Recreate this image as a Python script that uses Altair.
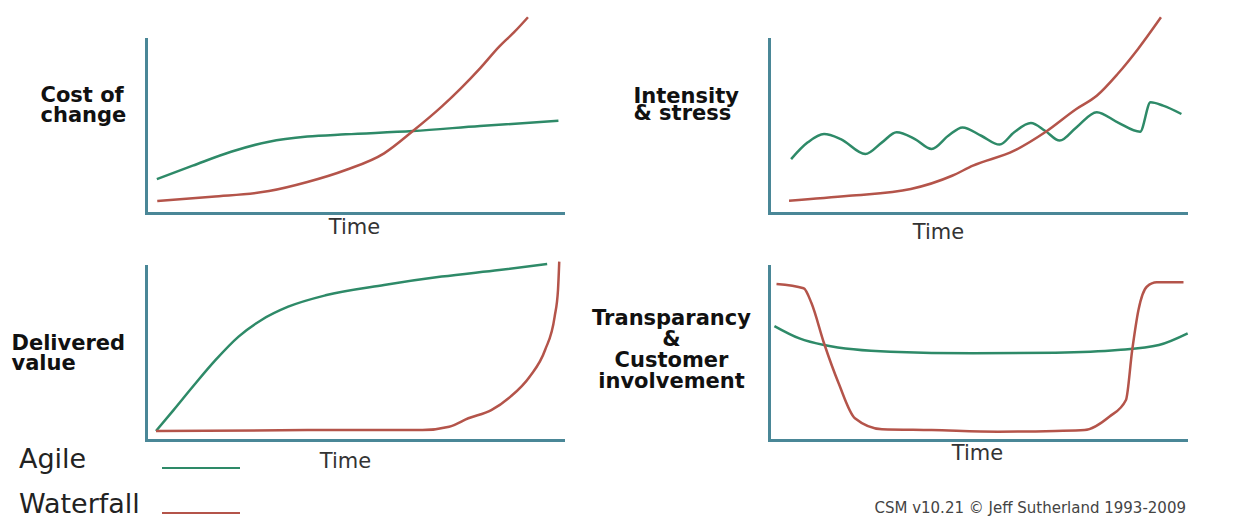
import altair as alt
import pandas as pd

SERIES = ["Agile", "Waterfall"]
COLORS = ["#2e8a68", "#b4544a"]
AXIS_COLOR = "#4a8797"
TEXT_FONT = "DejaVu Sans"

# ---- Panel 1: Cost of change ----
cost_agile_t = [2.6, 11.2, 20.4, 29.5, 38.7, 47.9, 64.0, 80.1, 98.9]
cost_agile_v = [19.5, 27.2, 35.2, 41.0, 43.9, 45.2, 47.1, 50.0, 53.0]
cost_wf_t = [2.7, 15.8, 29.5, 38.7, 47.9, 57.1, 64.0, 70.9, 75.5, 80.1, 84.7, 88.4, 91.6]
cost_wf_v = [6.9, 9.4, 12.6, 17.8, 24.7, 34.3, 47.1, 61.1, 71.6, 83.1, 95.6, 104.2, 112.5]

# ---- Panel 2: Intensity & stress ----
stress_agile_t = [5.3, 9.3, 13.2, 17.2, 23.1, 27.1, 30.6, 35.0, 39.0, 43.0, 46.4, 50.9, 55.3,
                  58.8, 62.8, 66.2, 69.7, 73.7, 78.6, 83.6, 89.0, 91.5, 94.5, 98.9]
stress_agile_v = [31.0, 40.6, 45.4, 42.5, 33.9, 40.6, 46.4, 42.5, 36.8, 44.4, 49.2, 44.4, 39.3,
                  46.4, 51.7, 47.3, 41.6, 49.2, 57.9, 52.1, 46.7, 63.6, 61.7, 56.9]
stress_wf_t = [4.8, 19.2, 34.0, 43.9, 48.9, 58.8, 66.2, 73.7, 78.6, 83.6, 88.5, 94.0]
stress_wf_v = [7.1, 9.9, 13.8, 21.4, 27.2, 35.8, 46.4, 59.8, 67.4, 79.9, 94.3, 112.5]

# ---- Panel 3: Delivered value ----
value_agile_t = [2.4, 6.6, 11.2, 16.7, 22.2, 27.7, 34.1, 43.3, 57.1, 70.9, 84.7, 96.2]
value_agile_v = [5.2, 17.2, 30.6, 46.0, 59.4, 69.0, 76.6, 83.3, 89.1, 93.9, 97.7, 101.1]
value_wf_t = [2.4, 38.7, 66.3, 72.7, 77.3, 82.8, 87.4, 92.0, 95.7, 98.0, 98.8, 99.1]
value_wf_v = [5.2, 5.7, 5.7, 7.6, 12.5, 17.2, 24.9, 36.4, 51.7, 70.9, 86.2, 102.5]

# ---- Panel 4: Transparancy & Customer involvement ----
transp_agile_t = [1.3, 7.3, 13.2, 29.1, 48.9, 68.7, 83.6, 93.5, 100.4]
transp_agile_v = [65.5, 58.4, 54.6, 50.7, 49.8, 50.2, 51.7, 54.6, 61.3]
transp_wf_t = [1.8, 8.3, 10.2, 13.2, 16.7, 20.6, 27.1, 39.0, 54.9, 68.7, 75.7, 81.6, 85.6,
               87.1, 88.6, 90.6, 93.0, 99.4]
transp_wf_v = [89.7, 87.2, 78.6, 55.6, 32.6, 12.5, 6.2, 5.7, 4.8, 5.2, 5.7, 13.4, 23.0,
               51.7, 74.7, 88.1, 90.6, 90.6]

FOOTER = "CSM v10.21 \u00a9 Jeff Sutherland 1993-2009"


def frame(at, av, wt, wv):
    a = pd.DataFrame({"t": at, "v": av, "series": SERIES[0]})
    w = pd.DataFrame({"t": wt, "v": wv, "series": SERIES[1]})
    return pd.concat([a, w], ignore_index=True)


color = alt.Color(
    "series:N",
    scale=alt.Scale(domain=SERIES, range=COLORS),
    legend=alt.Legend(
        title=None, orient="none", legendX=15, legendY=389,
        symbolType="stroke", symbolSize=6084, symbolStrokeWidth=2,
        labelFont=TEXT_FONT, labelFontSize=27, labelColor="#222222",
        labelOffset={"expr": "-222"}, labelAlign="left", labelBaseline="alphabetic",
        rowPadding=0, padding=0,
    ),
)


def panel(df, ylabel, yx, yy, yalign, ylh, tx, ty):
    x = alt.X(
        "t:Q",
        scale=alt.Scale(domain=[0, 100], nice=False, zero=False),
        axis=alt.Axis(
            title="Time", grid=False, ticks=False, labels=False,
            domainColor=AXIS_COLOR, domainWidth=3, domainCap="square",
            titleX=tx, titleY=ty, titleAlign="center", titleBaseline="alphabetic",
            titleFont=TEXT_FONT, titleFontSize=21, titleFontWeight="normal",
            titleColor="#333333",
        ),
    )
    y = alt.Y(
        "v:Q",
        scale=alt.Scale(domain=[0, 100], nice=False, zero=False),
        axis=alt.Axis(
            title=ylabel, grid=False, ticks=False, labels=False,
            domainColor=AXIS_COLOR, domainWidth=3, domainCap="square",
            titleAngle=0, titleX=yx, titleY=yy, titleAlign=yalign,
            titleBaseline="middle", titleLineHeight=ylh,
            titleFont=TEXT_FONT, titleFontSize=21, titleFontWeight="bold",
            titleColor="#111111",
        ),
    )
    return (
        alt.Chart(df)
        .mark_line(strokeWidth=2.5, interpolate="monotone")
        .encode(x=x, y=y, color=color)
        .properties(width=417, height=174)
    )


p1 = panel(frame(cost_agile_t, cost_agile_v, cost_wf_t, cost_wf_v),
           ["Cost of", "change"], -106, 56, "left", 20, 208, 20)
p2 = panel(frame(stress_agile_t, stress_agile_v, stress_wf_t, stress_wf_v),
           ["Intensity", "& stress"], -136, 57, "left", 17, 169, 25)
p3 = panel(frame(value_agile_t, value_agile_v, value_wf_t, value_wf_v),
           ["Delivered", "value"], -135, 77, "left", 20, 199, 27)
p4 = panel(frame(transp_agile_t, transp_agile_v, transp_wf_t, transp_wf_v),
           ["Transparancy", "&", "Customer", "involvement"], -98, 52, "center", 21, 208, 19
           ).properties(
    title=alt.TitleParams(
        FOOTER, orient="bottom", anchor="end", frame="group", offset=38,
        font=TEXT_FONT, fontSize=15, fontWeight="normal", color="#444444",
    )
)

chart = (
    alt.concat(p1, p2, p3, p4, columns=2, spacing={"row": 53, "column": 206}, bounds="flush")
    .resolve_scale(x="independent", y="independent")
    .properties(
        padding={"left": 3, "top": 4, "right": 5, "bottom": 2},
        background="white",
    )
    .configure_view(stroke=None)
)

chart.save("out.html", embed_options={"renderer": "svg", "actions": False})
